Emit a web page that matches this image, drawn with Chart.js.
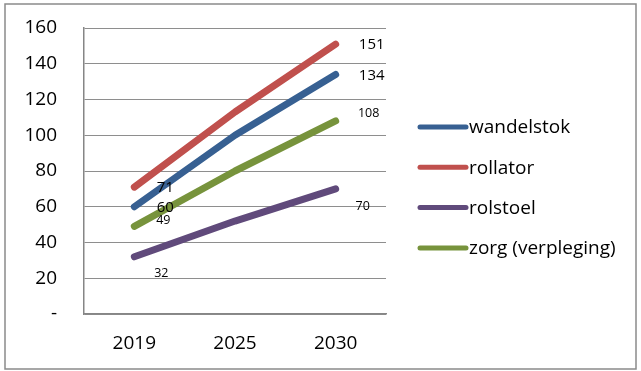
<!DOCTYPE html>
<html>
<head>
<meta charset="utf-8">
<script src="https://cdn.jsdelivr.net/npm/chart.js@4"></script>
<style>
html,body{margin:0;padding:0;background:#fff;}
#wrap{width:641px;height:371px;position:relative;}
</style>
</head>
<body>
<div id="wrap"><canvas id="c" width="641" height="371"></canvas></div>
<script>
const categories = ['2019', '2025', '2030'];
const seriesNames = ['wandelstok', 'rollator', 'rolstoel', 'zorg (verpleging)'];
const wandelstok = [60, 100, 134];
const rollator = [71, 113, 151];
const rolstoel = [32, 52, 70];
const zorg = [49, 80, 108];
const yTicks = [0, 20, 40, 60, 80, 100, 120, 140, 160];

// styles
const colors = ['#376092', '#C0504D', '#604A7B', '#77933C'];
const FONT = '"Open Sans", "Noto Sans", sans-serif';
// which points get value labels, with their offsets (style only)
const labelStyle = [
  { 0: {dx: 31, dy: 1, size: 15}, 2: {dx: 36, dy: 1, size: 15} },
  { 0: {dx: 31, dy: 1, size: 15}, 2: {dx: 36, dy: 1, size: 15} },
  { 0: {dx: 27, dy: 17, size: 12.5}, 2: {dx: 27, dy: 18, size: 12.5} },
  { 0: {dx: 29, dy: -6, size: 12.5}, 2: {dx: 33, dy: -8, size: 12.5} }
];

const seriesData = [wandelstok, rollator, rolstoel, zorg];

const decor = {
  id: 'decor',
  beforeDraw(chart) {
    const ctx = chart.ctx;
    ctx.save();
    ctx.fillStyle = '#fff';
    ctx.fillRect(0, 0, chart.width, chart.height);
    ctx.strokeStyle = '#8a8a8a';
    ctx.lineWidth = 1.5;
    ctx.strokeRect(5, 4, 631, 365);
    ctx.restore();
  },
  afterDatasetsDraw(chart) {
    const ctx = chart.ctx;
    ctx.save();
    ctx.fillStyle = '#000';
    ctx.textAlign = 'center';
    ctx.textBaseline = 'middle';
    chart.data.datasets.forEach((ds, i) => {
      const meta = chart.getDatasetMeta(i);
      const st = labelStyle[i];
      Object.keys(st).forEach(k => {
        const idx = +k;
        const el = meta.data[idx];
        const s = st[k];
        ctx.font = s.size + 'px ' + FONT;
        ctx.fillText(String(ds.data[idx]), el.x + s.dx, el.y + s.dy);
      });
    });
    // legend
    const lx0 = 420, lx1 = 466, tx = 469, y0 = 127, gap = 40.3;
    ctx.textAlign = 'left';
    ctx.font = '19px ' + FONT;
    chart.data.datasets.forEach((ds, i) => {
      const y = y0 + i * gap;
      ctx.strokeStyle = ds.borderColor;
      ctx.lineWidth = 5;
      ctx.lineCap = 'round';
      ctx.beginPath();
      ctx.moveTo(lx0, y);
      ctx.lineTo(lx1, y);
      ctx.stroke();
      ctx.fillStyle = '#000';
      ctx.fillText(ds.label, tx, y + 1);
    });
    ctx.restore();
  }
};

new Chart(document.getElementById('c'), {
  type: 'line',
  data: {
    labels: categories,
    datasets: seriesData.map((d, i) => ({
      label: seriesNames[i],
      data: d,
      borderColor: colors[i],
      backgroundColor: colors[i],
      borderWidth: 7,
      borderCapStyle: 'round',
      borderJoinStyle: 'round',
      pointRadius: 0,
      pointHoverRadius: 0,
      tension: 0,
      fill: false
    }))
  },
  options: {
    responsive: false,
    animation: false,
    events: [],
    layout: { padding: { top: 28, right: 255, bottom: 0, left: 0 } },
    plugins: { legend: { display: false }, tooltip: { enabled: false } },
    scales: {
      x: {
        offset: true,
        grid: { display: false, drawTicks: false },
        border: { display: true, color: '#868686', width: 1.5 },
        ticks: { color: '#000', font: { family: FONT, size: 19 }, padding: 18, maxRotation: 0 },
        afterFit(scale) { scale.height = 57; }
      },
      y: {
        min: 0,
        max: 160,
        afterBuildTicks(scale) { scale.ticks = yTicks.map(v => ({ value: v })); },
        grid: { color: '#8e8e8e', lineWidth: 1, drawTicks: false },
        border: { display: true, color: '#868686', width: 1.5 },
        ticks: {
          color: '#000',
          font: { family: FONT, size: 19 },
          padding: 27,
          callback: v => (v === 0 ? '-' : String(v))
        },
        afterFit(scale) { scale.width = 84; scale.paddingTop = 0; scale.paddingBottom = 0; }
      }
    }
  },
  plugins: [decor]
});
</script>
</body>
</html>
